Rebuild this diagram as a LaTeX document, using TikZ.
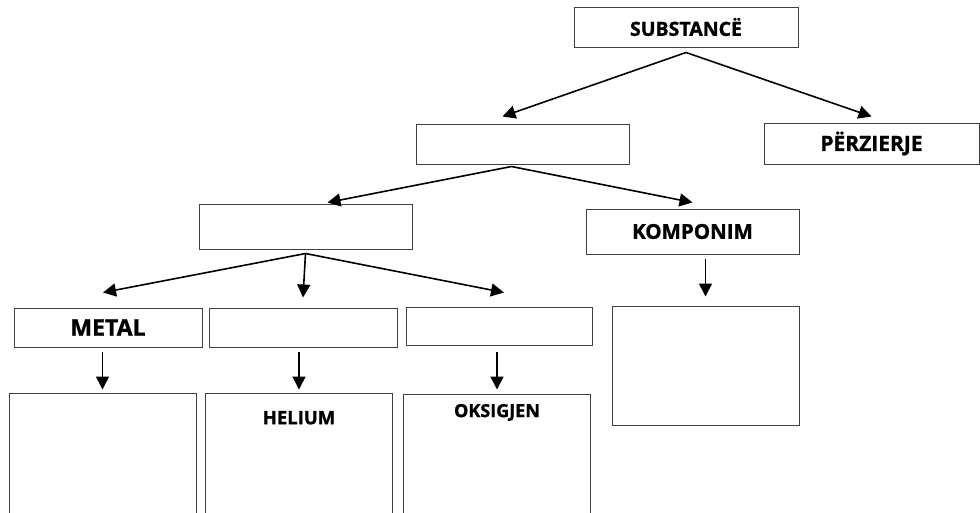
\documentclass[tikz,border=0pt]{standalone}
\usepackage{fontspec}
\setmainfont{Open Sans}[BoldFeatures={FakeBold=1.2}]
\usetikzlibrary{arrows.meta}
\begin{document}
\begin{tikzpicture}[x=1pt, y=-1pt,
            box/.style={rectangle, draw=black!75, line width=1pt, inner sep=0pt, font=\bfseries},
            tall_box/.style={box, minimum width=187pt, minimum height=140pt},
            edge/.style={-{Triangle[length=13pt, width=13pt]}, line width=1.6pt}
        ]

        \useasboundingbox (0,0) rectangle (980,512);
        \clip (0,0) rectangle (980,512);

        % Top of the tree
        \node[box, minimum width=224pt, minimum height=40pt, font=\fontsize{19.5}{21}\selectfont\bfseries] (sub) at (686,27) {SUBSTANC\"E};

        % Second level
        \node[box, minimum width=213pt, minimum height=40pt] (mid) at (522.5,144) {};
        \node[box, minimum width=215pt, minimum height=41pt, font=\fontsize{21}{23}\selectfont\bfseries] (perz) at (871.5,143.5) {P\"ERZIERJE};

        % Third level
        \node[box, minimum width=213pt, minimum height=45pt] (left) at (305.5,226.5) {};
        \node[box, minimum width=213pt, minimum height=45pt, font=\fontsize{20.5}{22}\selectfont\bfseries] (komp) at (692.5,231.5) {KOMPONIM};

        % Fourth level
        \node[box, minimum width=188pt, minimum height=39pt, font=\fontsize{23}{25}\selectfont\bfseries] (metal) at (108,327.5) {METAL};
        \node[box, minimum width=188pt, minimum height=39pt] (gas) at (303,327.5) {};
        \node[box, minimum width=186pt, minimum height=38pt] (nonmet) at (499,326) {};
        \node[box, minimum width=187pt, minimum height=119pt] (kbig) at (705.5,365.5) {};

        % Bottom boxes (run past the lower edge)
        \node[tall_box] (bot1) at (102.5,463) {};
        \node[tall_box, label={[anchor=north, yshift=-15pt, font=\fontsize{18.5}{20}\selectfont\bfseries]north:HELIUM}] (bot2) at (299,463) {};
        \node[tall_box, label={[anchor=north, yshift=-7pt, font=\fontsize{18}{20}\selectfont\bfseries]north:OKSIGJEN}] (bot3) at (497,464) {};

        % Arrows
        \draw[edge] ([yshift=-5pt]sub.south) -- ([xshift=-20pt, yshift=7pt]mid.north);
        \draw[edge] ([yshift=-5pt]sub.south) -- ([yshift=6pt]perz.north);

        \draw[edge] ([xshift=-11pt, yshift=-2pt]mid.south) -- ([xshift=22pt, yshift=1pt]left.north);
        \draw[edge] ([xshift=-11pt, yshift=-2pt]mid.south) -- ([yshift=6pt]komp.north);

        \draw[edge] ([yshift=-4pt]left.south) -- ([xshift=-5pt, yshift=15pt]metal.north);
        \draw[edge] ([yshift=-4pt]left.south) -- ([yshift=10pt]gas.north);
        \draw[edge] ([yshift=-4pt]left.south) -- ([xshift=5pt, yshift=14pt]nonmet.north);

        \draw[edge] ([yshift=-4pt]bot1.north |- metal.south) -- ([yshift=3pt]bot1.north);
        \draw[edge] ([yshift=-4pt]bot2.north |- gas.south) -- ([yshift=3pt]bot2.north);
        \draw[edge] ([yshift=-6pt]bot3.north |- nonmet.south) -- ([yshift=4pt]bot3.north);
        \draw[edge] ([yshift=-4pt]kbig.north |- komp.south) -- ([yshift=9pt]kbig.north);

    \end{tikzpicture}
\end{document}
